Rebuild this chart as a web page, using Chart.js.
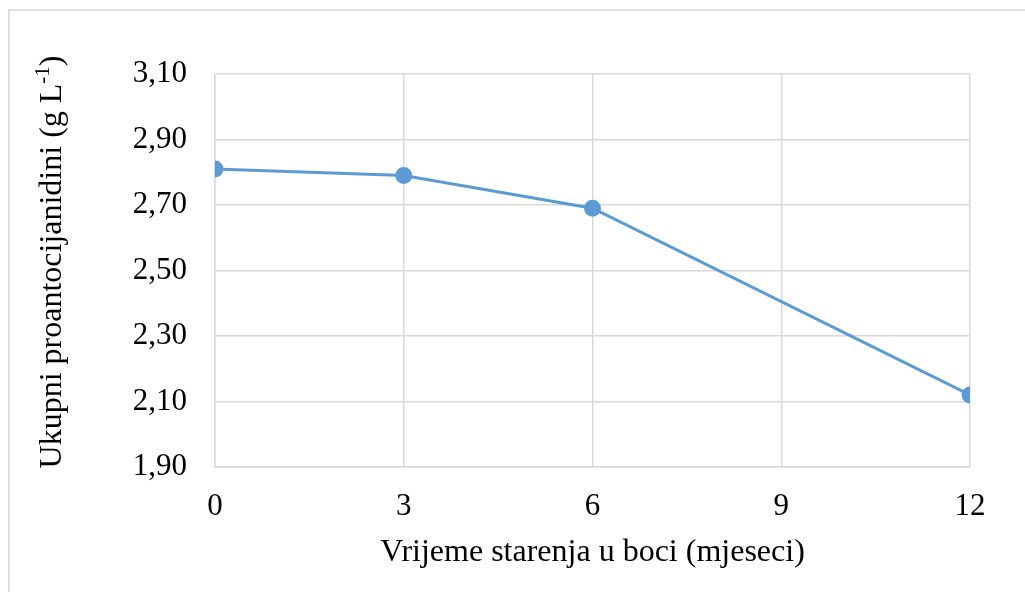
<!DOCTYPE html>
<html>
<head>
<meta charset="utf-8">
<script src="https://cdn.jsdelivr.net/npm/chart.js@4"></script>
<style>
  html, body { margin: 0; padding: 0; background: #fff; overflow: hidden; }
  #okvir {
    position: absolute; left: 8px; top: 9px; width: 1100px; height: 700px;
    border-left: 2px solid #dedede; border-top: 2px solid #dedede;
  }
  #graf { position: absolute; left: 0; top: 0; }
</style>
</head>
<body>
<div id="okvir"></div>
<canvas id="graf" width="1025" height="592"></canvas>
<script>
const mjeseci = [0, 3, 6, 12];
const proantocijanidini = [2.81, 2.79, 2.69, 2.12];
const xTickovi = [0, 3, 6, 9, 12];
const yTickovi = [1.9, 2.1, 2.3, 2.5, 2.7, 2.9, 3.1];

const font = "'Liberation Serif', 'Times New Roman', serif";
const mreza = '#d9d9d9';

// naslov y osi sa eksponentom
const yNaslov = {
  id: 'yNaslov',
  afterDraw(chart) {
    const ctx = chart.ctx;
    const dio1 = 'Ukupni proantocijanidini (g L';
    const eksp = '-1';
    const dio2 = ')';
    ctx.save();
    ctx.fillStyle = '#000';
    ctx.textBaseline = 'middle';
    ctx.font = "32px " + font;
    const w1 = ctx.measureText(dio1).width;
    const w3 = ctx.measureText(dio2).width;
    ctx.font = "21px " + font;
    const w2 = ctx.measureText(eksp).width;
    const ukupno = w1 + w2 + w3;
    ctx.translate(53, 262);
    ctx.rotate(-Math.PI / 2);
    let x = -ukupno / 2;
    ctx.font = "32px " + font;
    ctx.fillText(dio1, x, 0);
    x += w1;
    ctx.font = "21px " + font;
    ctx.fillText(eksp, x, -10);
    x += w2;
    ctx.font = "32px " + font;
    ctx.fillText(dio2, x, 0);
    ctx.restore();
  }
};

new Chart(document.getElementById('graf'), {
  type: 'line',
  data: {
    datasets: [{
      data: mjeseci.map((m, i) => ({ x: m, y: proantocijanidini[i] })),
      borderColor: '#5b9bd5',
      backgroundColor: '#5b9bd5',
      borderWidth: 3,
      pointRadius: 7,
      pointHoverRadius: 7,
      tension: 0,
      fill: false
    }]
  },
  options: {
    responsive: false,
    animation: false,
    layout: { padding: { left: 0, right: 55, top: 74, bottom: 0 } },
    plugins: {
      legend: { display: false },
      tooltip: { enabled: false }
    },
    scales: {
      x: {
        type: 'linear',
        min: 0,
        max: 12,
        afterBuildTicks: s => { s.ticks = xTickovi.map(v => ({ value: v })); },
        afterFit: s => { s.height = 125; },
        grid: { color: mreza, lineWidth: 1.5, drawTicks: false },
        border: { color: mreza, width: 1.5 },
        ticks: {
          color: '#000',
          padding: 21,
          maxRotation: 0,
          font: { family: font, size: 31 }
        },
        title: {
          display: true,
          text: 'Vrijeme starenja u boci (mjeseci)',
          color: '#000',
          font: { family: font, size: 32 },
          padding: { top: 0, bottom: 20 }
        }
      },
      y: {
        min: 1.9,
        max: 3.1,
        afterBuildTicks: s => { s.ticks = yTickovi.map(v => ({ value: v })); },
        afterFit: s => { s.width = 215; },
        grid: { color: mreza, lineWidth: 1.5, drawTicks: false },
        border: { color: mreza, width: 1.5 },
        ticks: {
          color: '#000',
          padding: 28,
          font: { family: font, size: 31 },
          callback: v => v.toFixed(2).replace('.', ',')
        }
      }
    }
  },
  plugins: [yNaslov]
});
</script>
</body>
</html>
